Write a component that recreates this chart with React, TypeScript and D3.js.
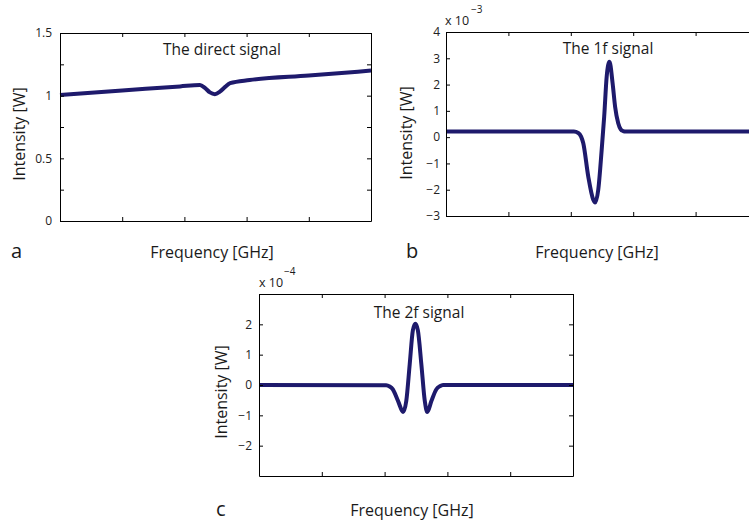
import React, { useEffect, useRef } from "react";
import * as d3 from "d3";

// frequency axis: 5 divisions, unlabeled
const freqTicks = [0, 2, 4, 6, 8, 10];

// a: the direct signal [W]
const freqA = [0, 2, 3.86, 4.5, 4.66, 4.82, 4.98, 5.14, 5.31, 5.47, 6.1, 8, 10];
const directSignal = [1.006, 1.041, 1.074, 1.085, 1.062, 1.026, 1.012, 1.032, 1.07, 1.1, 1.125, 1.161, 1.2];
const ticksA = [0, 0.25, 0.5, 0.75, 1, 1.25, 1.5];
const labelsA = ["0", "", "0.5", "", "1", "", "1.5"];

// b: the 1f signal [x 10^-3 W]
const freqB = [0, 4.1, 4.24, 4.33, 4.4, 4.56, 4.72, 4.78, 4.88, 4.99, 5.07, 5.15, 5.24, 5.34, 5.42, 5.52, 5.6, 5.68, 5.76, 10];
const signal1f = [0.21, 0.21, 0.16, 0.02, -0.23, -1.5, -2.38, -2.49, -2.0, -0.48, 0.78, 2.3, 2.87, 2.05, 1.16, 0.53, 0.3, 0.23, 0.21, 0.21];
const ticksB = [-3, -2, -1, 0, 1, 2, 3, 4];
const labelsB = ["\u22123", "\u22122", "\u22121", "0", "1", "2", "3", "4"];

// c: the 2f signal [x 10^-4 W]
const freqC = [0, 4.05, 4.16, 4.26, 4.43, 4.59, 4.69, 4.8, 4.9, 4.98, 5.06, 5.17, 5.28, 5.36, 5.49, 5.65, 5.76, 5.86, 10];
const signal2f = [0, -0.01, -0.05, -0.14, -0.53, -0.89, -0.53, 0.69, 1.8, 2.02, 1.8, 0.69, -0.53, -0.89, -0.53, -0.14, -0.04, 0, 0];
const ticksC = [-2, -1, 0, 1, 2];
const labelsC = ["\u22122", "\u22121", "0", "1", "2"];

const FONT = "'Open Sans', sans-serif";
const LINE = "#1e1a6c";

const panels = [
  {
    box: { left: 60, top: 33, width: 311, height: 188 },
    yDomain: [0, 1.5], yTicks: ticksA, yLabels: labelsA, tickGap: 8,
    xs: freqA, ys: directSignal,
    title: "The direct signal", titlePos: [222, 55],
    yLabelPos: [25, 134], xLabelPos: [212, 258], letter: "a", letterPos: [11, 258],
    exponent: null,
  },
  {
    box: { left: 446, top: 32, width: 312, height: 184 },
    yDomain: [-3, 4], yTicks: ticksB, yLabels: labelsB, tickGap: 6,
    xs: freqB, ys: signal1f,
    title: "The 1f signal", titlePos: [608, 54],
    yLabelPos: [412, 133], xLabelPos: [597, 258], letter: "b", letterPos: [406, 258],
    exponent: { text: "\u22123", base: [445, 25], sup: [471, 13] },
  },
  {
    box: { left: 259, top: 294, width: 314, height: 182 },
    yDomain: [-3, 3], yTicks: ticksC, yLabels: labelsC, tickGap: 7,
    xs: freqC, ys: signal2f,
    title: "The 2f signal", titlePos: [419, 318],
    yLabelPos: [227, 392], xLabelPos: [412, 516], letter: "c", letterPos: [216, 516],
    exponent: { text: "\u22124", base: [259, 287], sup: [284, 275] },
  },
];

const App = () => {
  const ref = useRef<SVGSVGElement>(null);

  useEffect(() => {
    const svg = d3.select(ref.current);
    svg.selectAll("*").remove();

    panels.forEach((p) => {
      const { left, top, width, height } = p.box;
      const x = d3.scaleLinear().domain([0, 10]).range([0, width]);
      const y = d3.scaleLinear().domain(p.yDomain).range([height, 0]);

      const g = svg.append("g").attr("transform", `translate(${left}, ${top})`);

      // the curve
      const line = d3
        .line<number>()
        .x((d, i) => x(p.xs[i]))
        .y((d) => y(d))
        .curve(d3.curveMonotoneX);
      g.append("path")
        .datum(p.ys)
        .attr("d", line)
        .attr("fill", "none")
        .attr("stroke", LINE)
        .attr("stroke-width", 4)
        .attr("stroke-linejoin", "round");

      // box with inward ticks on all four sides
      const styleAxis = (sel) => {
        sel.select(".domain").attr("stroke", "#000").attr("stroke-width", 1);
        sel.selectAll(".tick line").attr("stroke", "#000");
        sel.selectAll("text")
          .style("font-family", FONT)
          .style("font-size", "12px")
          .attr("fill", "#222");
      };

      g.append("g")
        .call(
          d3.axisLeft(y)
            .tickValues(p.yTicks)
            .tickFormat((d, i) => p.yLabels[i])
            .tickSizeInner(-4)
            .tickSizeOuter(0)
            .tickPadding(p.tickGap)
        )
        .call(styleAxis);
      g.append("g")
        .attr("transform", `translate(${width}, 0)`)
        .call(d3.axisRight(y).tickValues(p.yTicks).tickFormat(() => "").tickSizeInner(-4).tickSizeOuter(0))
        .call(styleAxis);
      g.append("g")
        .attr("transform", `translate(0, ${height})`)
        .call(d3.axisBottom(x).tickValues(freqTicks).tickFormat(() => "").tickSizeInner(-4).tickSizeOuter(0))
        .call(styleAxis);
      g.append("g")
        .call(d3.axisTop(x).tickValues(freqTicks).tickFormat(() => "").tickSizeInner(-4).tickSizeOuter(0))
        .call(styleAxis);

      const text = (t, px, py, size, anchor = "middle") =>
        svg.append("text")
          .attr("x", px)
          .attr("y", py)
          .attr("text-anchor", anchor)
          .style("font-family", FONT)
          .style("font-size", `${size}px`)
          .attr("fill", "#1a1a1a")
          .text(t);

      text(p.title, p.titlePos[0], p.titlePos[1], 15.5);
      text("Frequency [GHz]", p.xLabelPos[0], p.xLabelPos[1], 16);
      text(p.letter, p.letterPos[0], p.letterPos[1], 20, "start");
      svg.append("text")
        .attr("transform", `translate(${p.yLabelPos[0]}, ${p.yLabelPos[1]}) rotate(-90)`)
        .attr("text-anchor", "middle")
        .style("font-family", FONT)
        .style("font-size", "16px")
        .attr("fill", "#1a1a1a")
        .text("Intensity [W]");

      if (p.exponent) {
        text("x 10", p.exponent.base[0], p.exponent.base[1], 12.5, "start");
        text(p.exponent.text, p.exponent.sup[0], p.exponent.sup[1], 10, "start");
      }
    });
  }, []);

  return (
    <svg
      ref={ref}
      width={749}
      height={522}
      style={{ position: "absolute", left: 0, top: 0, background: "#fff" }}
    />
  );
};

export default App;
